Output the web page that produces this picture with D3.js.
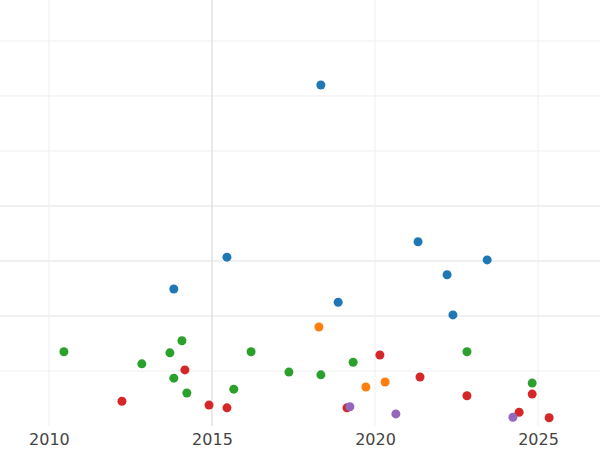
<!DOCTYPE html>
<html><head><meta charset="utf-8">
<script src="https://cdn.jsdelivr.net/npm/d3@7"></script>
<style>body{margin:0;background:#fff}</style>
</head><body><div id="chart"></div>
<script>
var xTicks = [2010, 2015, 2020, 2025];
var yGrid = [1, 2, 3, 4, 5, 6, 7];
var darkGrid = [2, 3, 4];
var blueX = [2018.34, 2015.46, 2013.83, 2018.87, 2021.32, 2022.21, 2023.44, 2022.39];
var blueY = [6.2, 3.07, 2.49, 2.25, 3.35, 2.75, 3.02, 2.02];
var orangeX = [2018.28, 2019.72, 2020.31];
var orangeY = [1.8, 0.71, 0.8];
var greenX = [2010.46, 2012.85, 2013.71, 2014.08, 2013.83, 2014.23, 2015.67, 2016.2, 2017.36, 2018.34, 2019.33, 2022.82, 2024.82];
var greenY = [1.35, 1.13, 1.33, 1.55, 0.87, 0.6, 0.67, 1.35, 0.98, 0.93, 1.16, 1.35, 0.78];
var redX = [2012.24, 2014.17, 2014.91, 2015.46, 2019.14, 2020.15, 2021.38, 2022.82, 2024.42, 2024.82, 2025.34];
var redY = [0.45, 1.02, 0.38, 0.33, 0.33, 1.29, 0.89, 0.55, 0.25, 0.58, 0.15];
var purpleX = [2019.23, 2020.64, 2024.23];
var purpleY = [0.35, 0.22, 0.16];

var series = [
  {c: '#1f77b4', x: blueX, y: blueY},
  {c: '#ff7f0e', x: orangeX, y: orangeY},
  {c: '#2ca02c', x: greenX, y: greenY},
  {c: '#d62728', x: redX, y: redY},
  {c: '#9467bd', x: purpleX, y: purpleY}
];

var width = 600, height = 450;
var svg = d3.select('#chart').append('svg').attr('width', width).attr('height', height);

var x = d3.scaleLinear().domain([2008.5, 2026.9]).range([0, 600]);
var y = d3.scaleLinear().domain([0, 7.745]).range([426, 0]);

// grid
svg.selectAll('line.h').data(yGrid).enter().append('line')
  .attr('x1', 0).attr('x2', width)
  .attr('y1', function (d) { return y(d); }).attr('y2', function (d) { return y(d); })
  .attr('stroke', function (d) { return darkGrid.indexOf(d) >= 0 ? '#e2e2e2' : '#efefef'; })
  .attr('stroke-width', 1);
svg.selectAll('line.v').data(xTicks).enter().append('line')
  .attr('y1', 0).attr('y2', 426)
  .attr('x1', function (d) { return x(d); }).attr('x2', function (d) { return x(d); })
  .attr('stroke', function (d) { return d === 2015 ? '#e2e2e2' : '#efefef'; })
  .attr('stroke-width', function (d) { return d === 2015 ? 1.5 : 1; });

// x axis labels
var ax = svg.append('g').attr('transform', 'translate(0,426)')
  .call(d3.axisBottom(x).tickValues(xTicks).tickFormat(d3.format('d')).tickSize(0).tickPadding(8));
ax.select('.domain').remove();
ax.selectAll('text').attr('font-family', 'DejaVu Sans').attr('font-size', 16).attr('fill', '#444');

// points
series.forEach(function (s) {
  svg.append('g').selectAll('circle').data(s.x).enter().append('circle')
    .attr('cx', function (d) { return x(d); })
    .attr('cy', function (d, i) { return y(s.y[i]); })
    .attr('r', 4.5)
    .attr('fill', s.c);
});
</script>
</body></html>
